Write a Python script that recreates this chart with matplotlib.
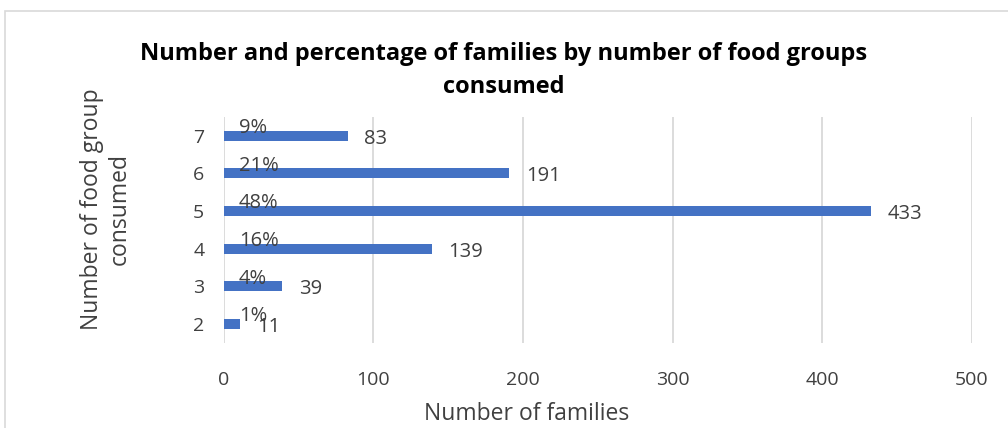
import matplotlib
matplotlib.use('Agg')
from matplotlib import pyplot as plt
from matplotlib.patches import Rectangle

# data
food_groups = ['2', '3', '4', '5', '6', '7']
families = [11, 39, 139, 433, 191, 83]
percentages = ['1%', '4%', '16%', '48%', '21%', '9%']

BAR_COLOR = '#4472C4'
TEXT_COLOR = '#404040'
GRID_COLOR = '#D9D9D9'

plt.rcParams['font.family'] = ['Open Sans', 'DejaVu Sans']

fig = plt.figure(figsize=(10.08, 4.28), dpi=100)
ax = fig.add_axes([0.222, 0.199, 0.742, 0.528])

# outer chart frame
fig.patches.append(Rectangle((5 / 1008, -0.05), 1.1, 1 - 11 / 428 + 0.05,
                             transform=fig.transFigure, fill=False,
                             edgecolor='#D9D9D9', linewidth=1.2))

y_pos = range(len(food_groups))
ax.barh(y_pos, families, height=0.27, color=BAR_COLOR, zorder=3)

for y, v, p in zip(y_pos, families, percentages):
    ax.text(v + 11, y - 0.08, str(v), va='center', ha='left',
            fontsize=14.5, color=TEXT_COLOR, zorder=4)
    ax.text(10, y + 0.2, p, va='center', ha='left',
            fontsize=14.5, color=TEXT_COLOR, zorder=4)

ax.set_xlim(0, 500)
ax.set_ylim(-0.5, len(food_groups) - 0.5)
ax.set_xticks([0, 100, 200, 300, 400, 500])
ax.set_yticks(list(y_pos))
ax.set_yticklabels(food_groups)
ax.xaxis.grid(True, color=GRID_COLOR, linewidth=1.3, zorder=0)
ax.tick_params(axis='both', length=0, labelsize=14, colors=TEXT_COLOR)
ax.tick_params(axis='x', pad=20)
ax.tick_params(axis='y', pad=14)
for s in ax.spines.values():
    s.set_visible(False)

fig.text(527 / 1008, 1 - 414 / 428, 'Number of families', ha='center', va='center',
         fontsize=16.5, color=TEXT_COLOR)
fig.text(0.105, 0.512, 'Number of food group\nconsumed', rotation=90,
         ha='center', va='center', fontsize=16.5, color=TEXT_COLOR,
         multialignment='center', linespacing=1.25)

fig.text(0.5, 0.835, 'Number and percentage of families by number of food groups\nconsumed',
         ha='center', va='center', fontsize=17, fontweight='bold', color='black',
         linespacing=1.5)

fig.savefig('out.png', dpi=100)
